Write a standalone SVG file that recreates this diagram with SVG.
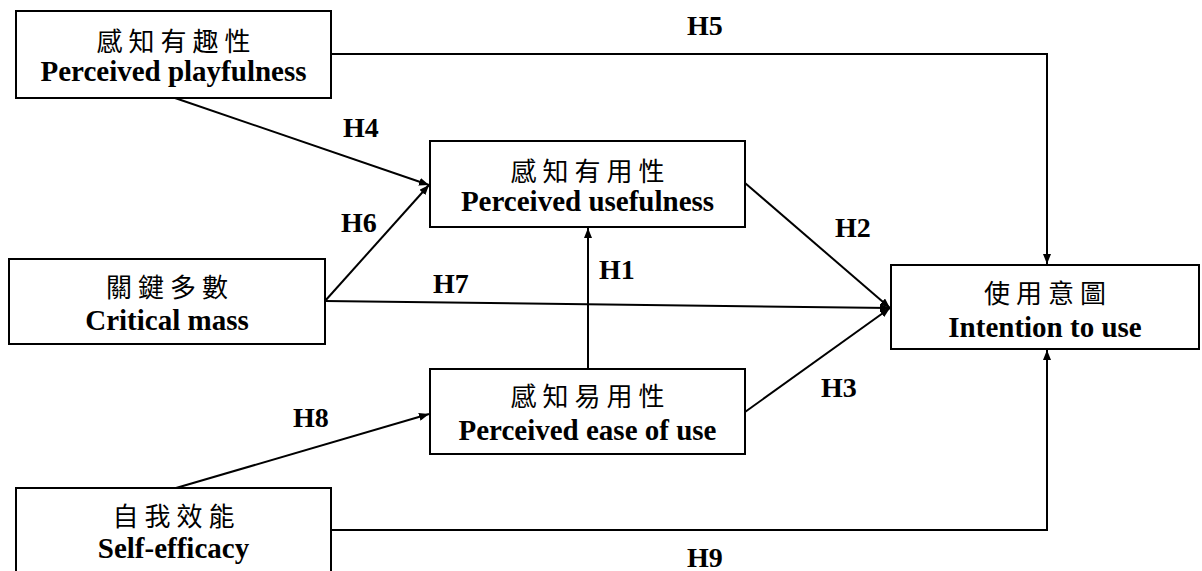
<svg xmlns="http://www.w3.org/2000/svg" width="1202" height="571" viewBox="0 0 1202 571">
<style>
.box{fill:#fff;stroke:#000;stroke-width:2}
.zh{font-family:"Noto Sans CJK TC","Noto Sans CJK SC",sans-serif;font-size:26px;letter-spacing:6px;text-anchor:middle;fill:#000}
.en{font-family:"Liberation Serif","Times New Roman",serif;font-weight:bold;font-size:29px;text-anchor:middle;fill:#000}
.lbl{font-family:"Liberation Serif","Times New Roman",serif;font-weight:bold;font-size:28px;fill:#000}
.c{fill:none;stroke:#000;stroke-width:2}
</style>
<defs>
<marker id="arr" viewBox="0 0 10 8" refX="10" refY="4" markerWidth="10" markerHeight="8" markerUnits="userSpaceOnUse" orient="auto">
<path d="M0,0 L10,4 L0,8 Z" fill="#000"/>
</marker>
</defs>
<g id="connectors">
<polyline class="c" points="331,54 1047,54 1047,264" marker-end="url(#arr)"/>
<line class="c" x1="175" y1="98" x2="429" y2="185" marker-end="url(#arr)"/>
<line class="c" x1="325" y1="301" x2="429" y2="185" marker-end="url(#arr)"/>
<line class="c" x1="325" y1="301" x2="890" y2="308" marker-end="url(#arr)"/>
<line class="c" x1="745" y1="183" x2="890" y2="308" marker-end="url(#arr)"/>
<line class="c" x1="745" y1="412" x2="890" y2="308" marker-end="url(#arr)"/>
<line class="c" x1="588" y1="369" x2="588" y2="228" marker-end="url(#arr)"/>
<line class="c" x1="176" y1="488" x2="429" y2="414" marker-end="url(#arr)"/>
<polyline class="c" points="331,530 1047,530 1047,350" marker-end="url(#arr)"/>
<text class="lbl" x="687" y="35">H5</text>
<text class="lbl" x="343" y="137">H4</text>
<text class="lbl" x="341" y="232">H6</text>
<text class="lbl" x="433" y="293">H7</text>
<text class="lbl" x="599" y="279">H1</text>
<text class="lbl" x="835" y="237">H2</text>
<text class="lbl" x="821" y="397">H3</text>
<text class="lbl" x="293" y="427">H8</text>
<text class="lbl" x="687" y="567">H9</text>
</g>
<g id="playfulness">
<rect class="box" x="16" y="11" width="315" height="87"/>
<text class="zh" x="176.5" y="51">感知有趣性</text>
<text class="en" x="173.5" y="81">Perceived playfulness</text>
</g>
<g id="usefulness">
<rect class="box" x="430" y="141" width="315" height="86"/>
<text class="zh" x="590.5" y="181">感知有用性</text>
<text class="en" x="587.5" y="211">Perceived usefulness</text>
</g>
<g id="critical-mass">
<rect class="box" x="9" y="259" width="316" height="85"/>
<text class="zh" x="170" y="297">關鍵多數</text>
<text class="en" x="167" y="330">Critical mass</text>
</g>
<g id="ease-of-use">
<rect class="box" x="430" y="369" width="315" height="85"/>
<text class="zh" x="590.5" y="406">感知易用性</text>
<text class="en" x="587.5" y="440">Perceived ease of use</text>
</g>
<g id="intention">
<rect class="box" x="891" y="265" width="308" height="84"/>
<text class="zh" x="1048" y="303">使用意圖</text>
<text class="en" x="1045" y="337">Intention to use</text>
</g>
<g id="self-efficacy">
<rect class="box" x="16" y="488" width="315" height="90"/>
<text class="zh" x="176.5" y="526">自我效能</text>
<text class="en" x="173.5" y="558">Self-efficacy</text>
</g>
</svg>
